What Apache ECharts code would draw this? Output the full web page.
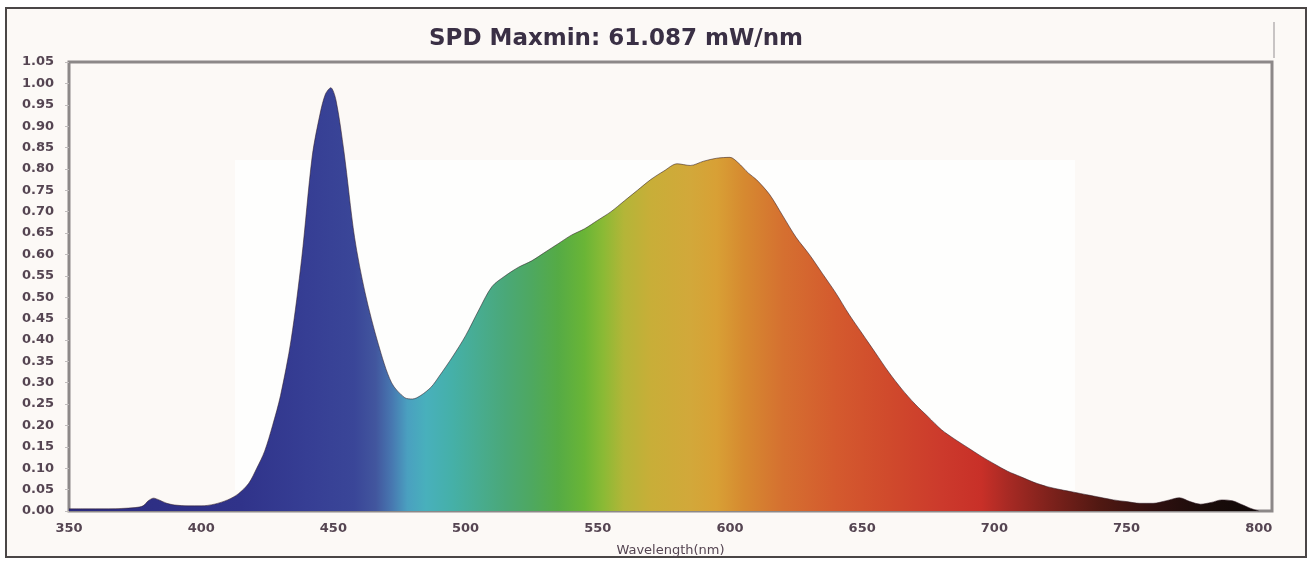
<!DOCTYPE html>
<html>
<head>
<meta charset="utf-8">
<script src="https://cdn.jsdelivr.net/npm/echarts@6/dist/echarts.min.js"></script>
<style>
html,body{margin:0;padding:0;background:#ffffff;}
#chart{width:1314px;height:562px;}
</style>
</head>
<body>
<div id="chart"></div>
<script>
// ---- data ----
const titleText = 'SPD Maxmin: 61.087 mW/nm';
const xAxisName = 'Wavelength(nm)';
const wavelengths = [
  350,355,360,365,370,375,378,380,382,384,387,390,395,400,405,410,414,418,421,424,427,430,434,438,442,445,447,449,451,454,458,462,467,472,477,480,483,487,490,495,
  500,505,510,515,520,525,530,535,540,545,550,555,560,565,570,575,580,585,590,595,600,603,607,610,615,620,625,630,635,640,645,650,655,660,665,670,675,680,685,690,
  695,700,705,710,715,720,725,730,735,740,745,750,755,760,765,770,774,778,782,786,790,794,797,800
];
const intensity = [
  0.005,0.005,0.005,0.005,0.006,0.008,0.012,0.024,0.030,0.026,0.018,0.014,0.012,0.012,0.016,0.026,0.040,0.065,0.10,0.14,0.20,0.27,0.40,0.59,0.83,0.93,0.975,0.99,0.96,0.84,0.64,0.51,0.39,0.30,0.265,0.262,0.27,0.29,0.315,0.36,
  0.41,0.47,0.525,0.55,0.57,0.585,0.605,0.625,0.645,0.66,0.68,0.70,0.725,0.75,0.775,0.795,0.812,0.808,0.818,0.825,0.827,0.815,0.79,0.775,0.74,0.69,0.64,0.60,0.555,0.51,0.46,0.415,0.37,0.325,0.285,0.25,0.22,0.19,0.168,0.148,
  0.128,0.11,0.093,0.080,0.067,0.057,0.05,0.044,0.038,0.032,0.026,0.022,0.018,0.018,0.024,0.031,0.022,0.016,0.020,0.026,0.024,0.014,0.006,0.0
];
// spectrum colour stops (wavelength -> colour)
const stopWavelengths = [350,415,440,458,466,472,478,485,495,505,515,525,535,545,552,560,570,585,595,605,620,640,660,680,695,705,720,740,760,780,800];
const stopColors = ['#2c2b80','#30338a','#363e94','#3a4698','#42569e','#4777b0','#4aa0c0','#48b0bc','#45b0a8','#48ac90','#4aa878','#4ea860','#55ab45','#6ab536','#8aba35','#b4b538','#c8ae38','#d2a83a','#d8a035','#d68a30','#d57030','#d45a2e','#d04a2c','#cc3a2c','#c83028','#a82a24','#80221c','#501812','#301010','#1a0c0a','#100808'];

const xMin = 350, xMax = 805, xStep = 50;
const yMin = 0, yMax = 1.05, yStep = 0.05;

// ---- chart ----
const chart = echarts.init(document.getElementById('chart'), null, {renderer:'canvas'});
const span = wavelengths[wavelengths.length-1] - wavelengths[0];
const grad = new echarts.graphic.LinearGradient(0,0,1,0,
  stopWavelengths.map((w,i)=>({offset:(w-wavelengths[0])/span, color:stopColors[i]})));
const seriesData = wavelengths.map((w,i)=>[w,intensity[i]]);
const labelColor = '#554552';

chart.setOption({
  backgroundColor:'#ffffff',
  animation:false,
  graphic:[
    {type:'rect', z:-10, shape:{x:6,y:8,width:1300,height:549}, style:{fill:'#fcf9f6', stroke:'#4a4646', lineWidth:2}},
    {type:'rect', z:-9, shape:{x:235,y:160,width:840,height:330}, style:{fill:'#fefefd'}},
    {type:'line', z:-5, shape:{x1:1274,y1:22,x2:1274,y2:58}, style:{stroke:'#c8c4c4', lineWidth:2}},
    {type:'text', left:429, top:28, style:{text:titleText, fill:'#3a3045', font:'bold 23px "DejaVu Sans"'}}
  ],
  grid:{left:69, right:42, top:62, bottom:50, show:true, borderColor:'#8c8888', borderWidth:3, backgroundColor:'transparent'},
  xAxis:{
    type:'value', min:xMin, max:xMax, interval:xStep,
    name:xAxisName, nameLocation:'middle', nameGap:33,
    nameTextStyle:{color:labelColor, fontSize:13, fontFamily:'DejaVu Sans'},
    axisLine:{show:false},
    axisTick:{show:false},
    splitLine:{show:false},
    axisLabel:{color:labelColor, fontSize:13, fontWeight:'bold', fontFamily:'DejaVu Sans', margin:11,
      formatter:v=> (v % xStep === 0 ? String(v) : '')}
  },
  yAxis:{
    type:'value', min:yMin, max:yMax, interval:yStep,
    axisLine:{show:false},
    axisTick:{show:true, length:4, lineStyle:{color:'#c0bcbc'}},
    splitLine:{show:false},
    axisLabel:{color:labelColor, fontSize:13, fontWeight:'bold', fontFamily:'DejaVu Sans', margin:15,
      formatter:v=>v.toFixed(2)}
  },
  series:[{
    type:'line',
    data:seriesData,
    showSymbol:false,
    smooth:0.3,
    lineStyle:{width:1, color:'rgba(50,30,40,0.55)'},
    areaStyle:{color:grad, opacity:1}
  }]
});
</script>
</body>
</html>
